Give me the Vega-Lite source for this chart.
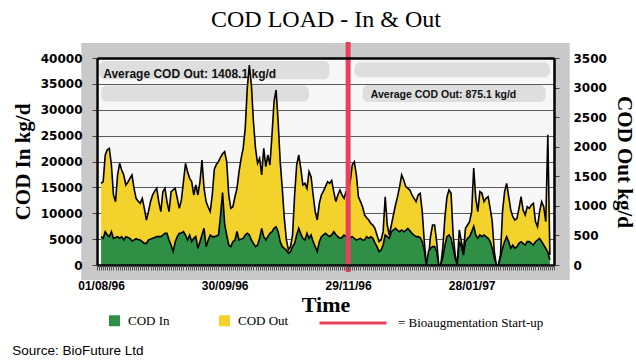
{
  "$schema": "https://vega.github.io/schema/vega-lite/v6.json",
  "width": 457,
  "height": 207,
  "autosize": {"type": "none"},
  "padding": {"left": 97, "top": 58, "right": 82, "bottom": 98},
  "background": "white",
  "title": {"text": "Source: BioFuture Ltd", "orient": "bottom", "anchor": "start", "frame": "bounds", "font": "Liberation Sans", "fontSize": 13.5, "fontWeight": "normal", "color": "black", "offset": 14},
  "config": {"view": {"stroke": null, "fill": "#f7f7f7"}},
  "datasets": {
    "cod": [
      {"date":"1996-08-01","in":5475,"out":1381},{"date":"1996-08-02","in":5153,"out":1409},{"date":"1996-08-03","in":6441,"out":1860},{"date":"1996-08-04","in":5800,"out":1950},{"date":"1996-08-05","in":5475,"out":1973},{"date":"1996-08-06","in":6441,"out":1691},{"date":"1996-08-07","in":5153,"out":1184},{"date":"1996-08-08","in":5300,"out":1071},{"date":"1996-08-09","in":5475,"out":1522},{"date":"1996-08-10","in":5153,"out":1719},{"date":"1996-08-11","in":5475,"out":1606},{"date":"1996-08-12","in":4831,"out":1522},{"date":"1996-08-13","in":5475,"out":1353},{"date":"1996-08-14","in":5300,"out":1400},{"date":"1996-08-15","in":5153,"out":1465},{"date":"1996-08-16","in":4650,"out":1522},{"date":"1996-08-17","in":4831,"out":1296},{"date":"1996-08-18","in":5100,"out":1127},{"date":"1996-08-19","in":4900,"out":1080},{"date":"1996-08-20","in":4831,"out":1043},{"date":"1996-08-21","in":4500,"out":1127},{"date":"1996-08-22","in":4187,"out":958},{"date":"1996-08-23","in":4187,"out":761},{"date":"1996-08-24","in":4831,"out":902},{"date":"1996-08-25","in":5000,"out":1071},{"date":"1996-08-26","in":5153,"out":1184},{"date":"1996-08-27","in":5300,"out":1250},{"date":"1996-08-28","in":5475,"out":1296},{"date":"1996-08-29","in":5475,"out":1071},{"date":"1996-08-30","in":5475,"out":902},{"date":"1996-08-31","in":5797,"out":1240},
      {"date":"1996-09-01","in":6119,"out":1296},{"date":"1996-09-02","in":6119,"out":1071},{"date":"1996-09-03","in":4831,"out":902},{"date":"1996-09-04","in":3800,"out":1240},{"date":"1996-09-05","in":2600,"out":1270},{"date":"1996-09-06","in":4500,"out":1296},{"date":"1996-09-07","in":5475,"out":1127},{"date":"1996-09-08","in":6119,"out":958},{"date":"1996-09-09","in":6200,"out":1100},{"date":"1996-09-10","in":6441,"out":1409},{"date":"1996-09-11","in":5797,"out":1719},{"date":"1996-09-12","in":4831,"out":1578},{"date":"1996-09-13","in":5797,"out":1465},{"date":"1996-09-14","in":4509,"out":1409},{"date":"1996-09-15","in":5153,"out":1184},{"date":"1996-09-16","in":5500,"out":1353},{"date":"1996-09-17","in":3221,"out":1184},{"date":"1996-09-18","in":4500,"out":1400},{"date":"1996-09-19","in":5797,"out":1775},{"date":"1996-09-20","in":7086,"out":1296},{"date":"1996-09-21","in":3543,"out":1071},{"date":"1996-09-22","in":4800,"out":980},{"date":"1996-09-23","in":5797,"out":902},{"date":"1996-09-24","in":5475,"out":1184},{"date":"1996-09-25","in":5475,"out":1620},{"date":"1996-09-26","in":5600,"out":1700},{"date":"1996-09-27","in":5797,"out":1747},{"date":"1996-09-28","in":9500,"out":1820},{"date":"1996-09-29","in":14000,"out":1880},{"date":"1996-09-30","in":8000,"out":1916},
      {"date":"1996-10-01","in":5797,"out":1747},{"date":"1996-10-02","in":3865,"out":1184},{"date":"1996-10-03","in":3543,"out":958},{"date":"1996-10-04","in":4509,"out":986},{"date":"1996-10-05","in":4800,"out":1150},{"date":"1996-10-06","in":6500,"out":1296},{"date":"1996-10-07","in":4831,"out":1578},{"date":"1996-10-08","in":5000,"out":1800},{"date":"1996-10-09","in":5153,"out":1973},{"date":"1996-10-10","in":5797,"out":2311},{"date":"1996-10-11","in":6119,"out":2987},{"date":"1996-10-12","in":5797,"out":3382},{"date":"1996-10-13","in":4831,"out":3043},{"date":"1996-10-14","in":4187,"out":2423},{"date":"1996-10-15","in":3543,"out":1973},{"date":"1996-10-16","in":3865,"out":1719},{"date":"1996-10-17","in":5153,"out":1803},{"date":"1996-10-18","in":7086,"out":1522},{"date":"1996-10-19","in":5475,"out":1973},{"date":"1996-10-20","in":4831,"out":1662},{"date":"1996-10-21","in":5475,"out":1860},{"date":"1996-10-22","in":6119,"out":1691},{"date":"1996-10-23","in":6441,"out":2198},{"date":"1996-10-24","in":7086,"out":2761},{"date":"1996-10-25","in":7400,"out":2959},{"date":"1996-10-26","in":6441,"out":2423},{"date":"1996-10-27","in":4509,"out":1747},{"date":"1996-10-28","in":3543,"out":1296},{"date":"1996-10-29","in":3221,"out":789},{"date":"1996-10-30","in":2899,"out":423},{"date":"1996-10-31","in":2255,"out":254},
      {"date":"1996-11-01","in":2577,"out":310},{"date":"1996-11-02","in":3543,"out":507},{"date":"1996-11-03","in":4187,"out":1184},{"date":"1996-11-04","in":5797,"out":1691},{"date":"1996-11-05","in":7086,"out":1860},{"date":"1996-11-06","in":6000,"out":1634},{"date":"1996-11-07","in":5153,"out":1353},{"date":"1996-11-08","in":4831,"out":1381},{"date":"1996-11-09","in":6119,"out":1296},{"date":"1996-11-10","in":5153,"out":1578},{"date":"1996-11-11","in":5797,"out":1493},{"date":"1996-11-12","in":4509,"out":1184},{"date":"1996-11-13","in":3543,"out":902},{"date":"1996-11-14","in":2577,"out":761},{"date":"1996-11-15","in":4509,"out":1043},{"date":"1996-11-16","in":5475,"out":1184},{"date":"1996-11-17","in":5800,"out":1250},{"date":"1996-11-18","in":6119,"out":1325},{"date":"1996-11-19","in":5797,"out":1409},{"date":"1996-11-20","in":5475,"out":1381},{"date":"1996-11-21","in":5800,"out":1430},{"date":"1996-11-22","in":6441,"out":1240},{"date":"1996-11-23","in":5900,"out":1071},{"date":"1996-11-24","in":5475,"out":1184},{"date":"1996-11-25","in":5153,"out":1268},{"date":"1996-11-26","in":5300,"out":1184},{"date":"1996-11-27","in":5797,"out":1127},{"date":"1996-11-28","in":5500,"out":1240},{"date":"1996-11-29","in":5400,"out":1240},{"date":"1996-11-30","in":5300,"out":1409},
      {"date":"1996-12-01","in":5475,"out":1691},{"date":"1996-12-02","in":5153,"out":1747},{"date":"1996-12-03","in":4831,"out":1522},{"date":"1996-12-04","in":5000,"out":1155},{"date":"1996-12-05","in":5153,"out":1071},{"date":"1996-12-06","in":4831,"out":986},{"date":"1996-12-07","in":4831,"out":845},{"date":"1996-12-08","in":5475,"out":800},{"date":"1996-12-09","in":5153,"out":761},{"date":"1996-12-10","in":5475,"out":704},{"date":"1996-12-11","in":5153,"out":676},{"date":"1996-12-12","in":4300,"out":620},{"date":"1996-12-13","in":3543,"out":507},{"date":"1996-12-14","in":2577,"out":394},{"date":"1996-12-15","in":2900,"out":423},{"date":"1996-12-16","in":3865,"out":564},{"date":"1996-12-17","in":5797,"out":1155},{"date":"1996-12-18","in":5475,"out":676},{"date":"1996-12-19","in":5153,"out":507},{"date":"1996-12-20","in":6441,"out":676},{"date":"1996-12-21","in":6763,"out":845},{"date":"1996-12-22","in":7086,"out":1014},{"date":"1996-12-23","in":6700,"out":1155},{"date":"1996-12-24","in":6441,"out":1325},{"date":"1996-12-25","in":6763,"out":1522},{"date":"1996-12-26","in":6441,"out":1437},{"date":"1996-12-27","in":6700,"out":1325},{"date":"1996-12-28","in":7086,"out":1296},{"date":"1996-12-29","in":6600,"out":1268},{"date":"1996-12-30","in":6119,"out":1184},{"date":"1996-12-31","in":5797,"out":1127},
      {"date":"1997-01-01","in":5475,"out":1071},{"date":"1997-01-02","in":5475,"out":1184},{"date":"1997-01-03","in":5300,"out":1212},{"date":"1997-01-04","in":4509,"out":902},{"date":"1997-01-05","in":2800,"out":394},{"date":"1997-01-06","in":0,"out":0},{"date":"1997-01-07","in":2577,"out":113},{"date":"1997-01-08","in":3221,"out":479},{"date":"1997-01-09","in":3543,"out":676},{"date":"1997-01-10","in":3543,"out":676},{"date":"1997-01-11","in":2577,"out":394},{"date":"1997-01-12","in":0,"out":0},{"date":"1997-01-13","in":0,"out":0},{"date":"1997-01-14","in":1500,"out":300},{"date":"1997-01-15","in":3800,"out":800},{"date":"1997-01-16","in":5475,"out":1150},{"date":"1997-01-17","in":5797,"out":1268},{"date":"1997-01-18","in":5153,"out":1212},{"date":"1997-01-19","in":3221,"out":507},{"date":"1997-01-20","in":1300,"out":169},{"date":"1997-01-21","in":0,"out":0},{"date":"1997-01-22","in":4509,"out":592},{"date":"1997-01-23","in":3543,"out":394},{"date":"1997-01-24","in":1900,"out":225},{"date":"1997-01-25","in":4509,"out":620},{"date":"1997-01-26","in":5153,"out":676},{"date":"1997-01-27","in":5475,"out":733},{"date":"1997-01-28","in":6441,"out":902},{"date":"1997-01-29","in":7500,"out":1640},{"date":"1997-01-30","in":5797,"out":1127},{"date":"1997-01-31","in":5153,"out":902},
      {"date":"1997-02-01","in":5797,"out":1240},{"date":"1997-02-02","in":5475,"out":1212},{"date":"1997-02-03","in":5797,"out":1071},{"date":"1997-02-04","in":5475,"out":1127},{"date":"1997-02-05","in":5153,"out":1155},{"date":"1997-02-06","in":4509,"out":958},{"date":"1997-02-07","in":3221,"out":733},{"date":"1997-02-08","in":1300,"out":225},{"date":"1997-02-09","in":0,"out":0},{"date":"1997-02-10","in":0,"out":0},{"date":"1997-02-11","in":1500,"out":169},{"date":"1997-02-12","in":3221,"out":902},{"date":"1997-02-13","in":4509,"out":1240},{"date":"1997-02-14","in":5475,"out":1381},{"date":"1997-02-15","in":4509,"out":1155},{"date":"1997-02-16","in":3221,"out":930},{"date":"1997-02-17","in":3865,"out":817},{"date":"1997-02-18","in":3221,"out":761},{"date":"1997-02-19","in":3543,"out":789},{"date":"1997-02-20","in":4187,"out":958},{"date":"1997-02-21","in":4509,"out":1155},{"date":"1997-02-22","in":4187,"out":930},{"date":"1997-02-23","in":3865,"out":845},{"date":"1997-02-24","in":4509,"out":986},{"date":"1997-02-25","in":4509,"out":958},{"date":"1997-02-26","in":4187,"out":1014},{"date":"1997-02-27","in":3865,"out":1043},{"date":"1997-02-28","in":4509,"out":733},
      {"date":"1997-03-01","in":4831,"out":648},{"date":"1997-03-02","in":5153,"out":902},{"date":"1997-03-03","in":4509,"out":1071},{"date":"1997-03-04","in":3865,"out":986},{"date":"1997-03-05","in":3221,"out":733},{"date":"1997-03-06","in":2500,"out":2200},{"date":"1997-03-07","in":1000,"out":169}
    ],
    "bands": [
      {"from":"1996-07-31","to":"1996-11-20","lo":35900,"hi":39400},
      {"from":"1996-08-01","to":"1996-11-10","lo":31600,"hi":34700},
      {"from":"1996-12-02","to":"1997-03-07","lo":36300,"hi":39200},
      {"from":"1996-12-06","to":"1997-03-05","lo":31500,"hi":34800}
    ],
    "events": [{"date":"1996-11-29","event":"Bioaugmentation Start-up"}]
  },
  "resolve": {"scale": {"y": "independent"}, "axis": {"x": "independent", "y": "independent"}},
  "layer": [
    {
      "data": {"values": [{"frame": "plot"}]},
      "mark": {"type": "rect", "filled": false, "color": "#c9c9c9", "strokeWidth": 15},
      "encoding": {
        "x": {"datum": {"year": 1996, "month": 7, "date": 26, "utc": true}, "type": "temporal", "scale": {"type": "utc", "domain": [{"year": 1996, "month": 7, "date": 30, "utc": true}, {"year": 1997, "month": 3, "date": 9, "utc": true}]}, "axis": null},
        "x2": {"datum": {"year": 1997, "month": 3, "date": 13, "utc": true}},
        "y": {"datum": 41450, "type": "quantitative", "scale": {"domain": [0, 40000]}, "axis": {"orient": "left", "grid": true, "gridColor": "#5a5a5a", "gridWidth": 1, "labels": false, "ticks": false, "domain": false, "title": null, "values": [5000, 10000, 15000, 20000, 25000, 30000, 35000], "zindex": 0}},
        "y2": {"datum": -1450}
      }
    },
    {
      "data": {"name": "bands"},
      "mark": {"type": "rect", "color": "#dedede", "cornerRadius": 6},
      "encoding": {
        "x": {"field": "from", "type": "temporal", "scale": {"type": "utc", "domain": [{"year": 1996, "month": 7, "date": 30, "utc": true}, {"year": 1997, "month": 3, "date": 9, "utc": true}]}, "axis": null},
        "x2": {"field": "to"},
        "y": {"field": "lo", "type": "quantitative", "scale": {"domain": [0, 40000]}, "axis": null},
        "y2": {"field": "hi"}
      }
    },
    {
      "data": {"name": "cod"},
      "mark": {"type": "area", "opacity": 1},
      "encoding": {
        "x": {"field": "date", "type": "temporal", "scale": {"type": "utc", "domain": [{"year": 1996, "month": 7, "date": 30, "utc": true}, {"year": 1997, "month": 3, "date": 9, "utc": true}]},
          "axis": {"orient": "bottom", "values": [{"year": 1996, "month": 8, "date": 1, "utc": true}, {"year": 1996, "month": 9, "date": 30, "utc": true}, {"year": 1996, "month": 11, "date": 29, "utc": true}, {"year": 1997, "month": 1, "date": 28, "utc": true}], "format": "%d/%m/%y", "labelFont": "Liberation Sans", "labelFontWeight": "bold", "labelFontSize": 12, "labelColor": "black", "labelPadding": 15, "labelFlush": false, "ticks": false, "domain": true, "domainColor": "black", "domainWidth": 2.5, "grid": false, "title": "Time", "titleFont": "Liberation Serif", "titleFontSize": 22, "titleFontWeight": "bold", "titleColor": "black", "titlePadding": 3, "zindex": 1}},
        "y": {"field": "out", "type": "quantitative", "scale": {"domain": [0, 3500]},
          "axis": {"orient": "right", "values": [0, 500, 1000, 1500, 2000, 2500, 3000, 3500], "format": "d", "labelFont": "DejaVu Sans", "labelFontWeight": "bold", "labelFontSize": 12, "labelColor": "black", "labelPadding": 14, "ticks": true, "tickSize": 5, "tickColor": "#444", "domain": true, "domainColor": "black", "domainWidth": 2.5, "grid": false, "title": "COD Out kg/d", "titleFont": "Liberation Serif", "titleFontSize": 21, "titleFontWeight": "bold", "titleColor": "black", "titlePadding": 7, "zindex": 1}},
        "color": {"datum": "COD Out", "type": "nominal", "scale": {"domain": ["COD In", "COD Out"], "range": ["#2f8f45", "#f3d22b"]},
          "legend": {"orient": "none", "legendX": 11, "legendY": 256, "direction": "horizontal", "title": null, "symbolType": "square", "symbolSize": 120, "symbolStrokeWidth": 0, "labelFont": "Liberation Serif", "labelFontSize": 13, "labelColor": "black", "columnPadding": 48, "labelOffset": 7, "padding": 0}}
      }
    },
    {
      "data": {"name": "cod"},
      "mark": {"type": "line", "color": "black", "strokeWidth": 1.6},
      "encoding": {
        "x": {"field": "date", "type": "temporal", "scale": {"type": "utc", "domain": [{"year": 1996, "month": 7, "date": 30, "utc": true}, {"year": 1997, "month": 3, "date": 9, "utc": true}]},
          "axis": {"orient": "bottom", "labels": false, "ticks": true, "tickCount": {"interval": "day", "step": 1}, "tickSize": 5, "tickColor": "#555", "tickWidth": 1, "domain": false, "grid": false, "title": null, "zindex": 1}},
        "y": {"field": "out", "type": "quantitative", "scale": {"domain": [0, 3500]}, "axis": null}
      }
    },
    {
      "data": {"name": "cod"},
      "mark": {"type": "area", "opacity": 1},
      "encoding": {
        "x": {"field": "date", "type": "temporal", "scale": {"type": "utc", "domain": [{"year": 1996, "month": 7, "date": 30, "utc": true}, {"year": 1997, "month": 3, "date": 9, "utc": true}]},
          "axis": {"orient": "top", "labels": false, "ticks": false, "domain": true, "domainColor": "black", "domainWidth": 2.5, "grid": false, "title": "COD LOAD - In & Out", "titleFont": "Liberation Serif", "titleFontSize": 24, "titleFontWeight": "normal", "titleColor": "black", "titlePadding": 27, "zindex": 1}},
        "y": {"field": "in", "type": "quantitative", "scale": {"domain": [0, 40000]},
          "axis": {"orient": "left", "values": [0, 5000, 10000, 15000, 20000, 25000, 30000, 35000, 40000], "format": "d", "labelFont": "DejaVu Sans", "labelFontWeight": "bold", "labelFontSize": 12, "labelColor": "black", "labelPadding": 10, "ticks": true, "tickSize": 5, "tickColor": "#444", "domain": true, "domainColor": "black", "domainWidth": 2.5, "grid": false, "title": "COD In kg/d", "titleFont": "Liberation Serif", "titleFontSize": 21, "titleFontWeight": "bold", "titleColor": "black", "titlePadding": 7, "zindex": 1}},
        "color": {"datum": "COD In", "type": "nominal", "scale": {"domain": ["COD In", "COD Out"], "range": ["#2f8f45", "#f3d22b"]},
          "legend": {"orient": "none", "legendX": 11, "legendY": 256, "direction": "horizontal", "title": null, "symbolType": "square", "symbolSize": 120, "symbolStrokeWidth": 0, "labelFont": "Liberation Serif", "labelFontSize": 13, "labelColor": "black", "columnPadding": 48, "labelOffset": 7, "padding": 0}}
      }
    },
    {
      "data": {"name": "cod"},
      "mark": {"type": "line", "color": "black", "strokeWidth": 1.6},
      "encoding": {
        "x": {"field": "date", "type": "temporal", "scale": {"type": "utc", "domain": [{"year": 1996, "month": 7, "date": 30, "utc": true}, {"year": 1997, "month": 3, "date": 9, "utc": true}]}, "axis": null},
        "y": {"field": "in", "type": "quantitative", "scale": {"domain": [0, 40000]}, "axis": null}
      }
    },
    {
      "data": {"name": "events"},
      "mark": {"type": "rule", "strokeWidth": 5},
      "encoding": {
        "x": {"field": "date", "type": "temporal", "scale": {"type": "utc", "domain": [{"year": 1996, "month": 7, "date": 30, "utc": true}, {"year": 1997, "month": 3, "date": 9, "utc": true}]}, "axis": null},
        "y": {"datum": 43100, "type": "quantitative", "scale": {"domain": [0, 40000]}, "axis": null},
        "y2": {"datum": -1350},
        "stroke": {"field": "event", "type": "nominal", "scale": {"range": ["#e8405c"]},
          "legend": {"orient": "none", "legendX": 221, "legendY": 230, "direction": "horizontal", "title": null, "symbolType": "stroke", "symbolSize": 4489, "symbolStrokeWidth": 3, "labelFont": "Liberation Serif", "labelFontSize": 13, "labelColor": "black", "labelOffset": 10, "labelExpr": "'= ' + datum.label", "padding": 0}}
      }
    },
    {
      "data": {"values": [{"date": "1996-08-02", "level": 36900, "note": "Average COD Out: 1408.1 kg/d"}]},
      "mark": {"type": "text", "align": "left", "baseline": "middle", "font": "Liberation Sans", "fontWeight": "bold", "fontSize": 12, "color": "#111111"},
      "encoding": {
        "x": {"field": "date", "type": "temporal", "scale": {"type": "utc", "domain": [{"year": 1996, "month": 7, "date": 30, "utc": true}, {"year": 1997, "month": 3, "date": 9, "utc": true}]}, "axis": null},
        "y": {"field": "level", "type": "quantitative", "scale": {"domain": [0, 40000]}, "axis": null},
        "text": {"field": "note"}
      }
    },
    {
      "data": {"values": [{"date": "1996-12-10", "level": 32850, "note": "Average COD Out:  875.1 kg/d"}]},
      "mark": {"type": "text", "align": "left", "baseline": "middle", "font": "Liberation Sans", "fontWeight": "bold", "fontSize": 10.5, "color": "#111111"},
      "encoding": {
        "x": {"field": "date", "type": "temporal", "scale": {"type": "utc", "domain": [{"year": 1996, "month": 7, "date": 30, "utc": true}, {"year": 1997, "month": 3, "date": 9, "utc": true}]}, "axis": null},
        "y": {"field": "level", "type": "quantitative", "scale": {"domain": [0, 40000]}, "axis": null},
        "text": {"field": "note"}
      }
    }
  ]
}
